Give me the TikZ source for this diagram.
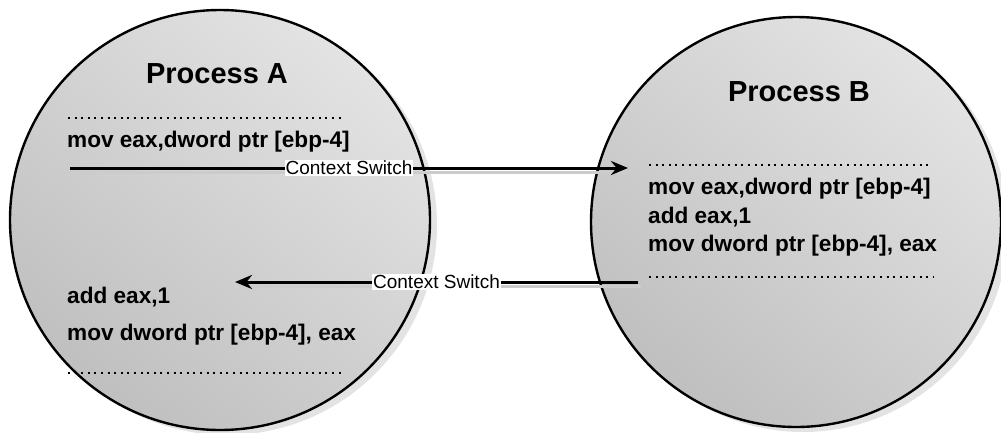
\documentclass[tikz,border=0pt]{standalone}
\usepackage{fontspec}
\setmainfont{Liberation Sans}
\usetikzlibrary{arrows.meta, positioning, shadows}

\begin{document}
\begin{tikzpicture}[x=1pt, y=-1pt,
  proc/.style={circle, draw, line width=2.4pt, inner sep=0pt,
               top color=black!11, bottom color=black!25, shading angle=-40,
               drop shadow={shadow xshift=7pt, shadow yshift=-5pt, fill=black!11, opacity=1}},
  title/.style={font=\bfseries\fontsize{29}{32}\selectfont, inner sep=0pt},
  code/.style={font=\bfseries\fontsize{22.6}{26}\selectfont, anchor=west, inner sep=0pt},
  dots/.style={line width=2pt, dash pattern=on 2pt off 4.6pt},
  ctxarrow/.style={-{Stealth[length=17pt, width=14pt]}, line width=3pt},
  ctxshadow/.style={black!20, line width=3pt},
  lbl/.style={fill=white, inner sep=1pt, font=\fontsize{19}{21}\selectfont}]
\useasboundingbox (0,0) rectangle (1001,432);

% the two processes
\node[proc, minimum size=420pt] (procA) at (220,220) {};
\node[proc, minimum size=410pt] (procB) at (796,222) {};

% process A
\node[title] (titleA) at (217,74) {Process A};
\draw[dots] (68,118) -- (345,118);
\node[code] (movA) at (67,142) {mov eax,dword ptr [ebp-4]};
\node[code] (addA) at (67,297) {add eax,1};
\node[code] (storeA) at (67,335) {mov dword ptr [ebp-4], eax};
\draw[dots] (68,373) -- (345,373);

% process B
\node[title] (titleB) at (799,92) {Process B};
\draw[dots] (649,165) -- (930,165);
\node[code] (movB) at (648,189) {mov eax,dword ptr [ebp-4]};
\node[code] (addB) at (648,217) {add eax,1};
\node[code] (storeB) at (648,246) {mov dword ptr [ebp-4], eax};
\draw[dots] (649,277) -- (933,277);

% context switches
\coordinate (outA) at (70,168);
\coordinate (inB) at (628,168);
\coordinate (outB) at (638,282);
\coordinate (inA) at (235,282);
\draw[ctxshadow] ([shift={(3,4)}]outA) -- ([shift={(3,4)}]inB);
\draw[ctxshadow] ([shift={(3,4)}]outB) -- ([shift={(3,4)}]inA);
\draw[ctxarrow] (outA) -- node[lbl] (swAB) {Context Switch} (inB);
\draw[ctxarrow] (outB) -- node[lbl] (swBA) {Context Switch} (inA);
\end{tikzpicture}
\end{document}
